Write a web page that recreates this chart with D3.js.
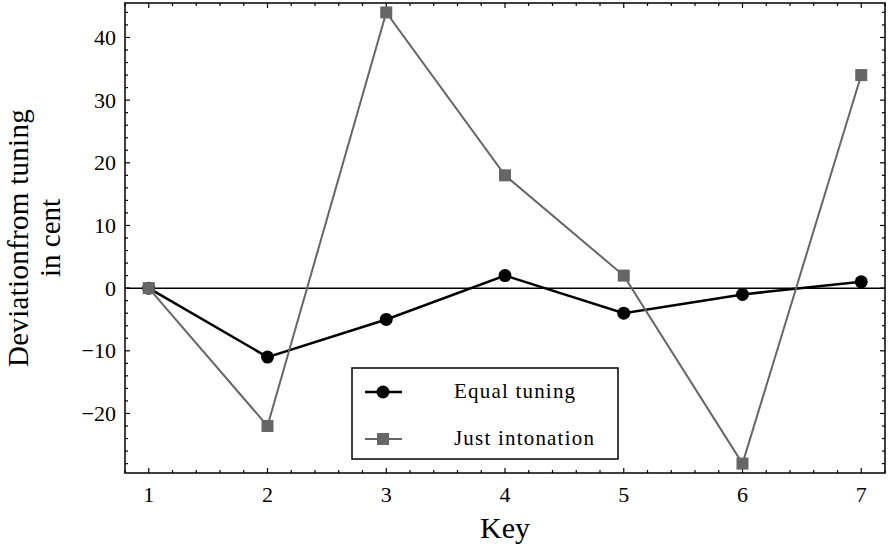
<!DOCTYPE html>
<html lang="en">
<head>
<meta charset="utf-8">
<title>Deviation from tuning</title>
<script src="https://cdn.jsdelivr.net/npm/d3@7"></script>
<style>
  body { margin: 0; background: #fff; }
  text { font-family: "Liberation Serif", "Times New Roman", serif; fill: #000; }
</style>
</head>
<body>
<script>
// chart data
var keys = [1, 2, 3, 4, 5, 6, 7];
var equalTuning = [0, -11, -5, 2, -4, -1, 1];
var justIntonation = [0, -22, 44, 18, 2, -28, 34];
var seriesNames = ["Equal tuning", "Just intonation"];
var yTicks = [-20, -10, 0, 10, 20, 30, 40];

var width = 888, height = 546;
var frame = { left: 125, right: 885, top: 3, bottom: 473 };

var svg = d3.select("body").append("svg")
    .attr("width", width)
    .attr("height", height);

var x = d3.scaleLinear().domain([0.8, 7.2]).range([frame.left, frame.right]);
var y = d3.scaleLinear().domain([-29.5, 45.5]).range([frame.bottom, frame.top]);

var grey = "#666666";

// zero line
svg.append("line")
    .attr("x1", frame.left).attr("x2", frame.right)
    .attr("y1", y(0)).attr("y2", y(0))
    .attr("stroke", "#000").attr("stroke-width", 1.5);

// ticks on all four sides, pointing inward
var xMinor = d3.range(0.8, 7.21, 0.2).filter(function(v) { return Math.abs(v - Math.round(v)) > 0.01; });
var yMinor = d3.range(-28, 45, 2).filter(function(v) { return v % 10 !== 0; });

function addTicks(g, vals, len) {
  vals.forEach(function(v) {
    g.append("line").attr("x1", x(v)).attr("x2", x(v)).attr("y1", frame.bottom).attr("y2", frame.bottom - len);
    g.append("line").attr("x1", x(v)).attr("x2", x(v)).attr("y1", frame.top).attr("y2", frame.top + len);
  });
}
function addYTicks(g, vals, len) {
  vals.forEach(function(v) {
    g.append("line").attr("y1", y(v)).attr("y2", y(v)).attr("x1", frame.left).attr("x2", frame.left + len);
    g.append("line").attr("y1", y(v)).attr("y2", y(v)).attr("x1", frame.right).attr("x2", frame.right - len);
  });
}
var tickG = svg.append("g").attr("stroke", "#000").attr("stroke-width", 1.2);
addTicks(tickG, keys, 5);
addTicks(tickG, xMinor, 3);
addYTicks(tickG, yTicks, 5);
addYTicks(tickG, yMinor, 3);

// frame
svg.append("rect")
    .attr("x", frame.left).attr("y", frame.top)
    .attr("width", frame.right - frame.left)
    .attr("height", frame.bottom - frame.top)
    .attr("fill", "none").attr("stroke", "#000").attr("stroke-width", 1.5);

// tick labels
svg.append("g").selectAll("text").data(keys).enter().append("text")
    .attr("x", function(d) { return x(d); })
    .attr("y", 502)
    .attr("text-anchor", "middle")
    .attr("font-size", "22px")
    .text(function(d) { return d; });

svg.append("g").selectAll("text").data(yTicks).enter().append("text")
    .attr("x", frame.left - 9)
    .attr("y", function(d) { return y(d) + 7.5; })
    .attr("text-anchor", "end")
    .attr("font-size", "22px")
    .text(function(d) { return d < 0 ? "\u2212" + Math.abs(d) : d; });

// axis titles
svg.append("text")
    .attr("x", (frame.left + frame.right) / 2)
    .attr("y", 538)
    .attr("text-anchor", "middle")
    .attr("font-size", "30px")
    .text("Key");

var yTitle = svg.append("text")
    .attr("transform", "translate(28," + ((frame.top + frame.bottom) / 2) + ") rotate(-90)")
    .attr("text-anchor", "middle")
    .attr("font-size", "29px");
yTitle.append("tspan").attr("x", 0).attr("y", 0).attr("letter-spacing", "0.3px").text("Deviationfrom tuning");
yTitle.append("tspan").attr("x", 0).attr("y", 32).text("in cent");

// series
var line = d3.line()
    .x(function(d, i) { return x(keys[i]); })
    .y(function(d) { return y(d); });

svg.append("path").datum(equalTuning)
    .attr("d", line).attr("fill", "none")
    .attr("stroke", "#000").attr("stroke-width", 2.5);
svg.append("g").selectAll("circle").data(equalTuning).enter().append("circle")
    .attr("cx", function(d, i) { return x(keys[i]); })
    .attr("cy", function(d) { return y(d); })
    .attr("r", 6.5).attr("fill", "#000");

svg.append("path").datum(justIntonation)
    .attr("d", line).attr("fill", "none")
    .attr("stroke", grey).attr("stroke-width", 2);
svg.append("g").selectAll("rect").data(justIntonation).enter().append("rect")
    .attr("x", function(d, i) { return x(keys[i]) - 6; })
    .attr("y", function(d) { return y(d) - 6; })
    .attr("width", 12).attr("height", 12)
    .attr("fill", grey);

// legend
var lg = svg.append("g");
lg.append("rect")
    .attr("x", 352).attr("y", 368)
    .attr("width", 266).attr("height", 91)
    .attr("fill", "#fff").attr("stroke", "#000").attr("stroke-width", 1.5);

var rows = [392, 439];
seriesNames.forEach(function(name, i) {
  var col = i === 0 ? "#000" : grey;
  lg.append("line")
      .attr("x1", 365).attr("x2", 402)
      .attr("y1", rows[i]).attr("y2", rows[i])
      .attr("stroke", col).attr("stroke-width", i === 0 ? 2.5 : 2);
  if (i === 0) {
    lg.append("circle").attr("cx", 383).attr("cy", rows[i]).attr("r", 6.5).attr("fill", col);
  } else {
    lg.append("rect").attr("x", 377).attr("y", rows[i] - 6).attr("width", 12).attr("height", 12).attr("fill", col);
  }
  lg.append("text")
      .attr("x", 454).attr("y", rows[i] + 6)
      .attr("font-size", "21px")
      .attr("letter-spacing", "1.2px")
      .text(name);
});
</script>
</body>
</html>
